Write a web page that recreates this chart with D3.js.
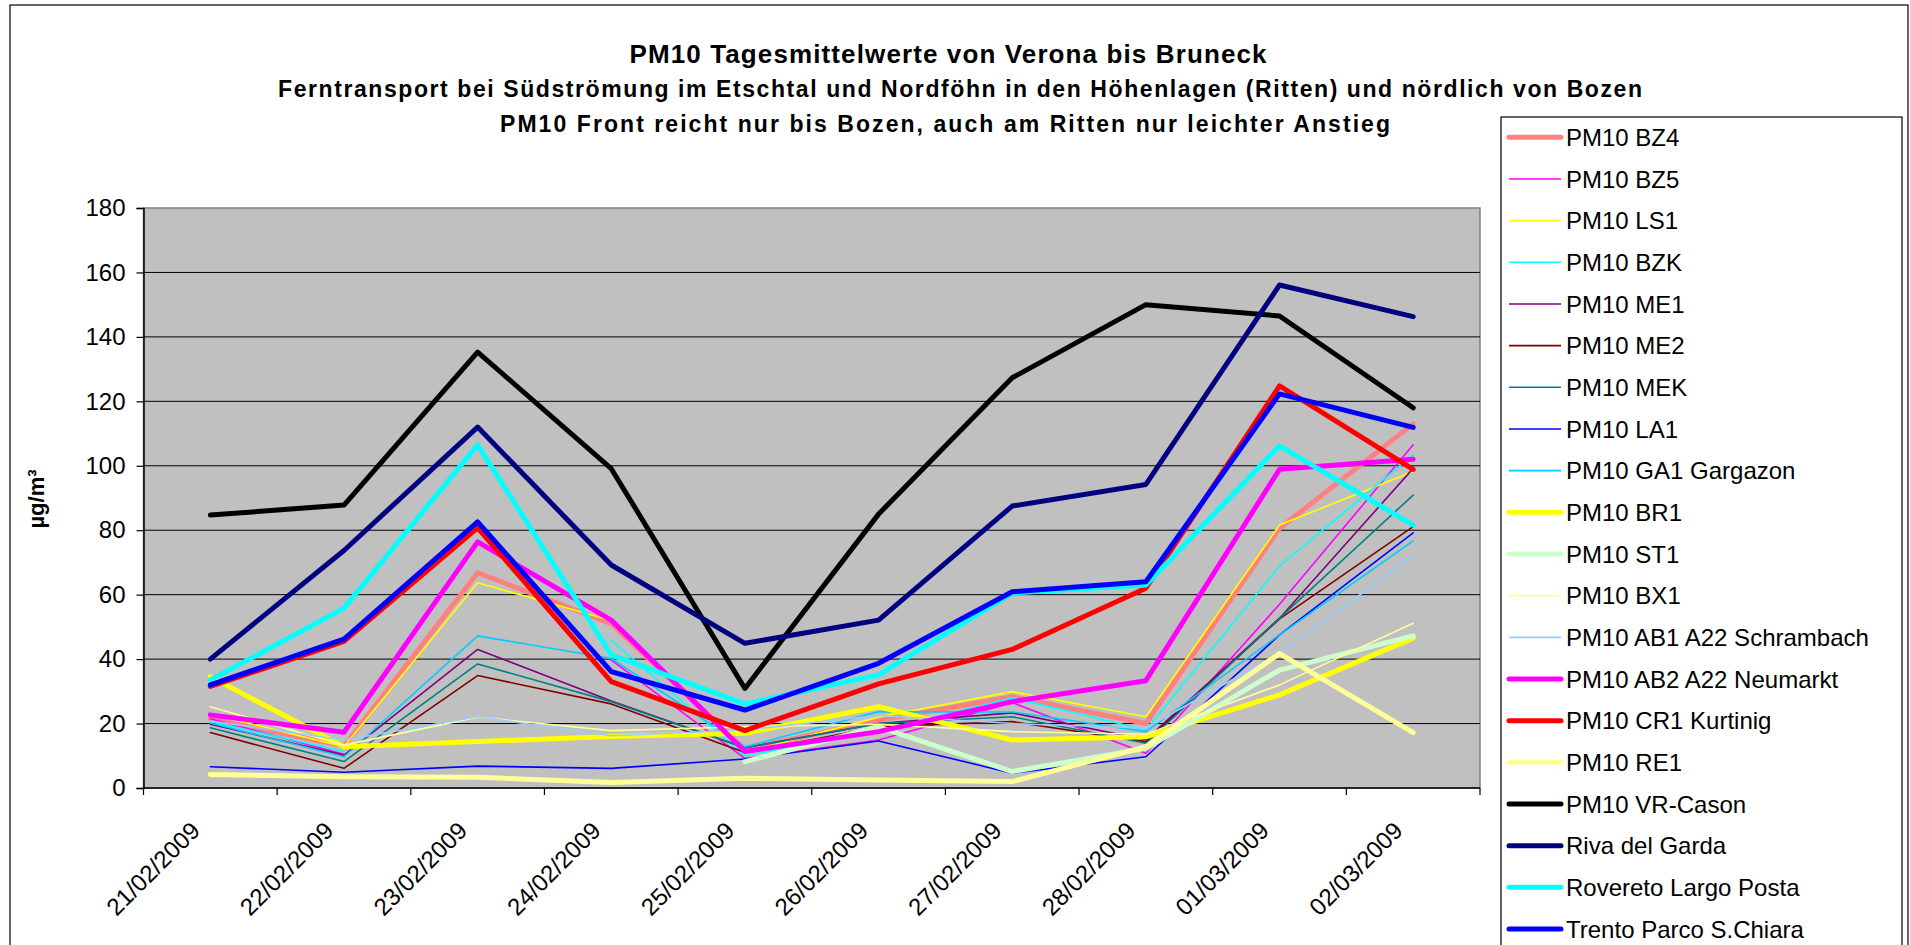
<!DOCTYPE html>
<html>
<head>
<meta charset="utf-8">
<script src="https://cdn.jsdelivr.net/npm/d3@7"></script>
<style>
  body { margin: 0; background: #fff; }
  svg { display: block; font-family: "Liberation Sans", Arial, sans-serif; }
</style>
</head>
<body>
<div id="chart"></div>
<script>
// categories
const dates = ["21/02/2009", "22/02/2009", "23/02/2009", "24/02/2009", "25/02/2009",
               "26/02/2009", "27/02/2009", "28/02/2009", "01/03/2009", "02/03/2009"];
const yTicks = [0, 20, 40, 60, 80, 100, 120, 140, 160, 180];

// values per station (µg/m³), null = no value
const bz4      = [21.5, 13, 66.8, 51, 12, 21, 28.3, 20, 80.6, 113];
const bz5      = [21.5, 10.5, null, 39.7, 9.2, 14.9, 26.5, 10.8, 57, 106.5];
const ls1      = [23, 12.8, 63.7, 52, 11, 22, 29.9, 22.1, 81.6, 98.2];
const bzk      = [20.6, 11.3, null, 45.9, 10, 17.6, 28, 18, 68.9, 103.4];
const me1      = [19.8, 10.2, 43, 27, 12.5, 20, 23.3, 15, 52.7, 99.2];
const me2      = [17.2, 6.1, 34.9, 26.1, 11, 19, 20.6, 14.4, 52.5, 81.1];
const mek      = [18.7, 8.2, 38.5, 26.8, 12.5, 20, 22.1, 13.9, 52.7, 90.9];
const la1      = [6.6, 4.9, 6.8, 6.1, 9, 14.6, 4.6, 9.7, 47.5, 79.2];
const ga1      = [20.2, 9.7, 47.2, 40.2, 12.8, 23.7, 23.6, 17.5, 47.5, 76.7];
const br1      = [34.5, 12.8, 14.4, 16, 17, 25.2, 14.9, 15.9, 28.9, 46.5];
const st1      = [null, null, null, null, 8.2, 19, 5.1, 12.3, 36.6, 47.2];
const bx1      = [25.2, 13.3, 22, 17.8, 19, 19.8, 17.5, 16.7, 32, 51.1];
const ab1      = [20.8, 14.9, 22.1, 16.2, 18, 22.5, 20, 18.6, 41.8, 72];
const ab2      = [22.7, 17.3, 76.4, 52.1, 11.3, 17.5, 26.8, 33.3, 98.9, 102];
const cr1      = [31.5, 45.5, 80.7, 33, 17.8, 32.3, 43, 62, 124.8, 98.9];
const re1      = [4.2, 3.5, 3.3, 1.7, 3, 2.5, 2, 12.8, 41.7, 17.2];
const vrCason  = [84.7, 87.8, 135.3, 99.1, 30.9, 85, 127.3, 150, 146.5, 118];
const riva     = [40, 73.7, 112, 69.2, 44.9, 52.1, 87.5, 94.2, 156.1, 146.3];
const rovereto = [33.5, 55.8, 106.5, 41.3, 26.1, 35.1, 60.5, 63, 106.2, 81.6];
const trento   = [32, 46.2, 82.6, 36.1, 24.2, 38.7, 60.9, 64, 122.3, 111.9];

const seriesNames = ["PM10 BZ4", "PM10 BZ5", "PM10 LS1", "PM10 BZK", "PM10 ME1", "PM10 ME2",
  "PM10 MEK", "PM10 LA1", "PM10 GA1 Gargazon", "PM10 BR1", "PM10 ST1", "PM10 BX1",
  "PM10 AB1 A22 Schrambach", "PM10 AB2 A22 Neumarkt", "PM10 CR1 Kurtinig", "PM10 RE1",
  "PM10 VR-Cason", "Riva del Garda", "Rovereto Largo Posta", "Trento Parco S.Chiara"];
const seriesValues = [bz4, bz5, ls1, bzk, me1, me2, mek, la1, ga1, br1, st1, bx1,
  ab1, ab2, cr1, re1, vrCason, riva, rovereto, trento];

// colour + stroke width per series
const seriesStyle = [
  ["#FF8080", 5], ["#FF00FF", 1.6], ["#FFFF00", 1.6], ["#00FFFF", 1.6], ["#800080", 1.6],
  ["#800000", 1.6], ["#008080", 1.6], ["#0000FF", 1.6], ["#00CCFF", 1.6], ["#FFFF00", 5],
  ["#CCFFCC", 5], ["#FFFF99", 1.6], ["#99CCFF", 1.6], ["#FF00FF", 5], ["#FF0000", 5],
  ["#FFFF99", 5], ["#000000", 5], ["#000080", 5], ["#00FFFF", 5], ["#0000FF", 5]
];

const series = seriesNames.map((name, i) => ({
  name: name,
  values: seriesValues[i],
  color: seriesStyle[i][0],
  width: seriesStyle[i][1]
}));

const W = 1910, H = 945;
const margin = { top: 208, left: 143.5 };
const plotW = 1336.5, plotH = 580;

const svg = d3.select("#chart").append("svg")
  .attr("width", W)
  .attr("height", H);

// outer chart border
svg.append("rect")
  .attr("x", 10).attr("y", 5)
  .attr("width", 1898).attr("height", 960)
  .attr("fill", "#fff")
  .attr("stroke", "#000")
  .attr("stroke-width", 1.2);

// titles
const titles = [
  { text: "PM10 Tagesmittelwerte von Verona bis Bruneck", x: 948, y: 63, size: 26, len: 637 },
  { text: "Ferntransport bei Südströmung im Etschtal und Nordföhn in den Höhenlagen (Ritten) und nördlich von Bozen", x: 960, y: 97, size: 23, len: 1364 },
  { text: "PM10 Front reicht nur bis Bozen, auch am Ritten nur leichter Anstieg", x: 945, y: 132, size: 23, len: 890 }
];
svg.selectAll(".title")
  .data(titles)
  .enter()
  .append("text")
  .attr("class", "title")
  .attr("x", d => d.x)
  .attr("y", d => d.y)
  .attr("text-anchor", "middle")
  .attr("font-weight", "bold")
  .attr("font-size", d => d.size + "px")
  .attr("textLength", d => d.len)
  .attr("lengthAdjust", "spacing")
  .text(d => d.text);

const g = svg.append("g")
  .attr("transform", `translate(${margin.left},${margin.top})`);

const x = d3.scaleBand().domain(dates).range([0, plotW]);
const y = d3.scaleLinear().domain([0, 180]).range([plotH, 0]);
const cx = d => x(d) + x.bandwidth() / 2;

// plot area
g.append("rect")
  .attr("width", plotW)
  .attr("height", plotH)
  .attr("fill", "#C0C0C0")
  .attr("stroke", "#808080")
  .attr("stroke-width", 1.5);

// gridlines
g.append("g")
  .selectAll("line")
  .data(yTicks.filter(v => v > 0 && v < 180))
  .enter()
  .append("line")
  .attr("x1", 0).attr("x2", plotW)
  .attr("y1", d => y(d)).attr("y2", d => y(d))
  .attr("stroke", "#000")
  .attr("stroke-width", 1);

// y axis
const yAxis = g.append("g")
  .call(d3.axisLeft(y).tickValues(yTicks).tickSize(7).tickPadding(11));
yAxis.select(".domain").attr("stroke", "#000").attr("stroke-width", 1.5);
yAxis.selectAll(".tick line").attr("stroke", "#000").attr("stroke-width", 1.2);
yAxis.selectAll(".tick text")
  .attr("font-family", "Liberation Sans, Arial, sans-serif")
  .attr("font-size", "24px")
  .attr("fill", "#000");

// x axis: line, ticks between categories, rotated labels
const xAxis = g.append("g").attr("transform", `translate(0,${plotH})`);
xAxis.append("line")
  .attr("x1", 0).attr("x2", plotW)
  .attr("stroke", "#000").attr("stroke-width", 1.5);
xAxis.selectAll(".xtick")
  .data(dates.map(d => x(d)).concat([plotW]))
  .enter()
  .append("line")
  .attr("class", "xtick")
  .attr("x1", d => d).attr("x2", d => d)
  .attr("y1", 0).attr("y2", 7)
  .attr("stroke", "#000").attr("stroke-width", 1.2);
xAxis.selectAll(".xlabel")
  .data(dates)
  .enter()
  .append("text")
  .attr("class", "xlabel")
  .attr("transform", d => `translate(${cx(d) - 9},44) rotate(-45)`)
  .attr("text-anchor", "end")
  .attr("font-size", "24px")
  .text(d => d);

// y axis title
svg.append("text")
  .attr("transform", "translate(44,499) rotate(-90)")
  .attr("text-anchor", "middle")
  .attr("font-weight", "bold")
  .attr("font-size", "22px")
  .text("µg/m³");

// lines
const line = d3.line()
  .defined(d => d != null)
  .x((d, i) => cx(dates[i]))
  .y(d => y(d));

g.append("g")
  .selectAll("path")
  .data(series)
  .enter()
  .append("path")
  .attr("d", d => line(d.values))
  .attr("fill", "none")
  .attr("stroke", d => d.color)
  .attr("stroke-width", d => d.width)
  .attr("stroke-linejoin", "round")
  .attr("stroke-linecap", "round");

// legend
const legend = svg.append("g");
legend.append("rect")
  .attr("x", 1501).attr("y", 117)
  .attr("width", 401).attr("height", 840)
  .attr("fill", "#fff")
  .attr("stroke", "#000")
  .attr("stroke-width", 1.2);

const legendItem = legend.selectAll(".legend-item")
  .data(series)
  .enter()
  .append("g")
  .attr("class", "legend-item")
  .attr("transform", (d, i) => `translate(1509,${137.3 + i * 41.67})`);

legendItem.append("line")
  .attr("x1", 0).attr("x2", 52)
  .attr("stroke", d => d.color)
  .attr("stroke-width", d => d.width)
  .attr("stroke-linecap", d => d.width > 2 ? "round" : "butt");

legendItem.append("text")
  .attr("x", 57)
  .attr("y", 8.7)
  .attr("font-size", "24px")
  .text(d => d.name);
</script>
</body>
</html>
